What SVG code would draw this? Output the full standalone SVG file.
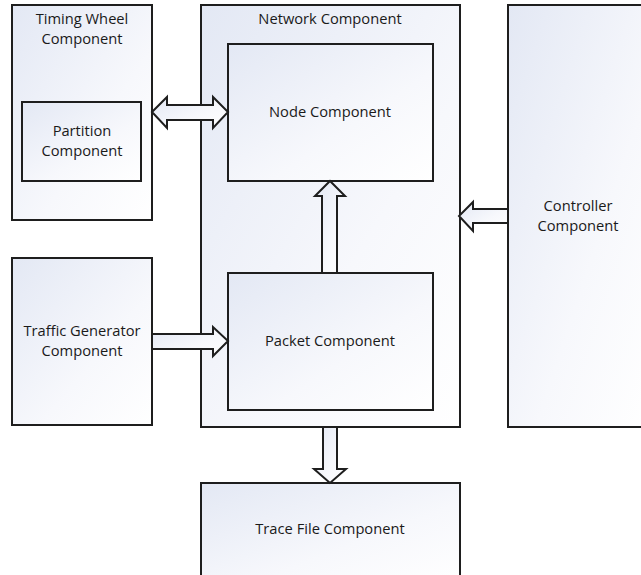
<svg xmlns="http://www.w3.org/2000/svg" width="641" height="575" viewBox="0 0 641 575">
<defs>
<linearGradient id="g" x1="0" y1="0" x2="1" y2="1">
<stop offset="0" stop-color="#e3e8f4"/>
<stop offset="0.6" stop-color="#f7f8fc"/>
<stop offset="1" stop-color="#ffffff"/>
</linearGradient>
<style>
.box{fill:url(#g);stroke:#1e1e1e;stroke-width:2}
.arr{fill:url(#g);stroke:#1e1e1e;stroke-width:2;stroke-linejoin:miter}
text{font-family:"Open Sans","Liberation Sans",sans-serif;font-size:14.7px;fill:#1a1a1a;text-anchor:middle}
</style>
</defs>
<rect width="641" height="575" fill="#ffffff"/>
<g id="timing-wheel">
<rect class="box" x="12" y="5" width="140" height="215"/>
<text x="82" y="24">Timing Wheel</text>
<text x="82" y="44">Component</text>
</g>
<g id="partition">
<rect class="box" x="22" y="102" width="119" height="79"/>
<text x="82" y="136">Partition</text>
<text x="82" y="156">Component</text>
</g>
<g id="network">
<rect class="box" x="201" y="5" width="259" height="422"/>
<text x="330" y="24">Network Component</text>
</g>
<g id="node">
<rect class="box" x="228" y="44" width="205" height="137"/>
<text x="330" y="117">Node Component</text>
</g>
<g id="packet">
<rect class="box" x="228" y="273" width="205" height="137"/>
<text x="330" y="346">Packet Component</text>
</g>
<g id="controller">
<rect class="box" x="508" y="5" width="140" height="422"/>
<text x="578" y="211">Controller</text>
<text x="578" y="231">Component</text>
</g>
<g id="traffic-generator">
<rect class="box" x="12" y="258" width="140" height="167"/>
<text x="82" y="336">Traffic Generator</text>
<text x="82" y="356">Component</text>
</g>
<g id="trace-file">
<rect class="box" x="201" y="483" width="259" height="100"/>
<text x="330" y="534">Trace File Component</text>
</g>
<g id="connectors">
<path class="arr" d="M152,112 L167,97 L167,105 L213,105 L213,97 L228,112 L213,128 L213,120 L167,120 L167,128 Z"/>
<path class="arr" d="M152,334 L213,334 L213,327 L228,341 L213,356 L213,349 L152,349 Z"/>
<path class="arr" d="M322,273 L322,196 L315,196 L330,181 L345,196 L337,196 L337,273 Z"/>
<path class="arr" d="M508,209 L473,209 L473,202 L459,216 L473,231 L473,223 L508,223 Z"/>
<path class="arr" d="M323,427 L323,469 L314,469 L330,483 L346,469 L337,469 L337,427 Z"/>
</g>
</svg>
